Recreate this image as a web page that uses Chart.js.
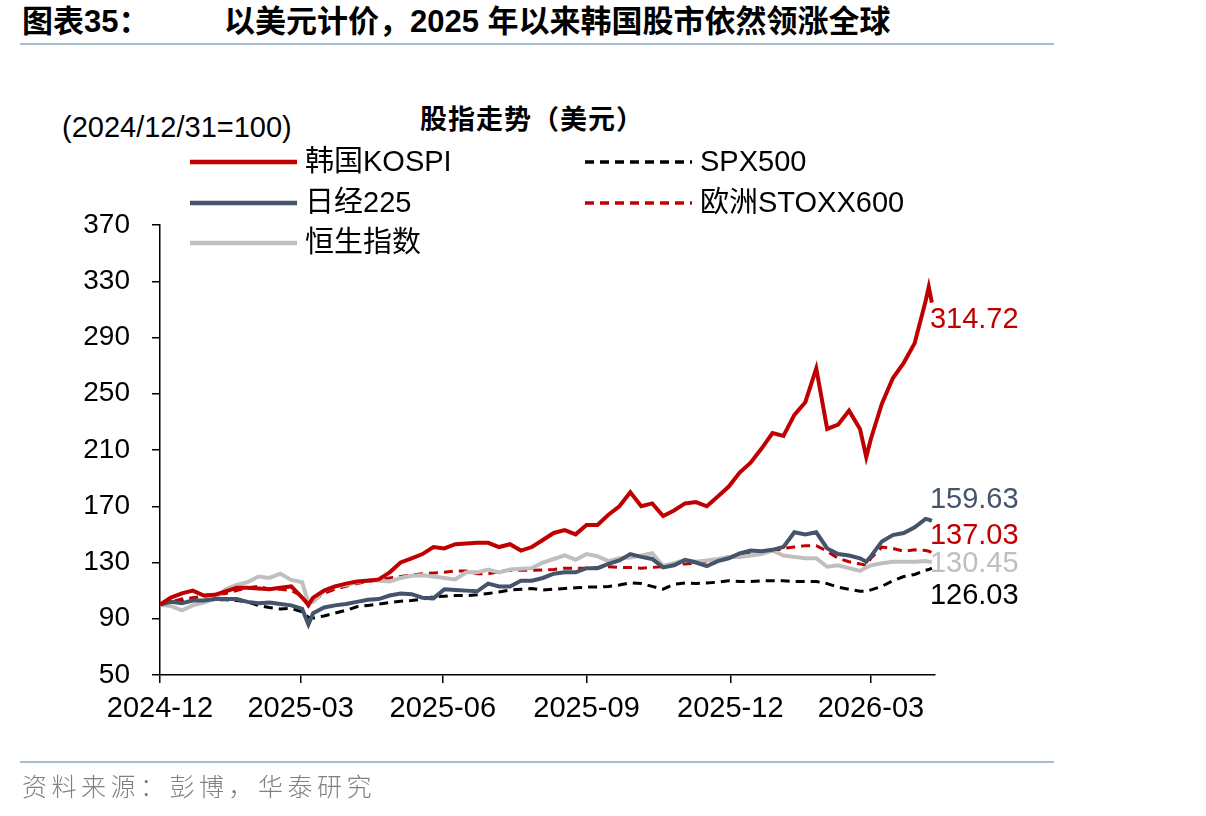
<!DOCTYPE html>
<html>
<head>
<meta charset="utf-8">
<script src="https://cdn.jsdelivr.net/npm/chart.js@4.4.1/dist/chart.umd.min.js"></script>
<style>
  html, body { margin: 0; padding: 0; background: #fff; }
  body { width: 1206px; height: 816px; position: relative; overflow: hidden;
         font-family: "Liberation Sans", "Noto Sans CJK SC", sans-serif; }
  #chartBox { position: absolute; left: 0; top: 0; width: 1206px; height: 816px; }
  .title { position: absolute; top: 2px; font-size: 31px; font-weight: bold; white-space: nowrap; line-height: 40px; }
  .rule { position: absolute; left: 20px; width: 1034px; height: 2px; background: #A7BCD1; }
  .unit { position: absolute; left: 62px; top: 109px; font-size: 29px; line-height: 36px; white-space: nowrap; }
  .sub { position: absolute; left: 420px; top: 100px; font-size: 27px; font-weight: bold; line-height: 36px;
         letter-spacing: 1px; font-family: "Noto Sans CJK SC", sans-serif; white-space: nowrap; }
  .source { position: absolute; left: 22px; top: 768px; font-size: 25px; line-height: 34px; color: #808080;
            letter-spacing: 4.5px; font-family: "Noto Sans CJK SC", sans-serif; font-weight: 300; }
</style>
</head>
<body>
<div class="title" style="left:22px">图表35：</div>
<div class="title" style="left:224px">以美元计价，2025 年以来韩国股市依然领涨全球</div>
<div class="rule" style="top:43px"></div>
<div class="unit">(2024/12/31=100)</div>
<div class="sub">股指走势（美元）</div>
<div id="chartBox"><canvas id="chart" width="1206" height="816"></canvas></div>
<div class="rule" style="top:761px"></div>
<div class="source">资料来源：彭博，华泰研究</div>

<script>
// === Datos (días desde 2024/12/31) ===
const days = [0, 7, 14, 21, 28, 35, 42, 49, 56, 63, 70, 77, 84, 91, 95,
  98, 105, 112, 119, 126, 133, 140, 147, 154, 161, 168, 175, 182, 189, 196,
  203, 210, 217, 224, 231, 238, 245, 252, 259, 266, 273, 280, 287, 294, 301,
  308, 315, 322, 329, 336, 343, 350, 357, 364, 371, 378, 385, 392, 399, 406,
  413, 420, 427, 434, 441, 448, 452, 455, 462, 469, 476, 483, 490, 492, 494];

const kospi = [100, 105, 108, 110, 106.5, 107, 109.5, 112, 112, 111.5, 111, 112, 113, 105, 100,
  105, 110, 113, 115, 116.5, 117, 118, 123, 130, 133, 136, 141, 140, 143, 143.5,
  144, 144, 141, 143, 138.5, 141, 146, 151, 153, 150, 156.7, 156.7, 164, 170, 180,
  170, 172, 163, 167, 172, 173, 170, 177, 184, 194, 201, 211, 222, 220, 235,
  244, 268, 225, 228, 238, 225, 205, 218, 243, 261, 272, 286, 316, 326, 314.72];

const spx = [100, 101, 102.5, 103, 103, 103.5, 103.5, 103, 102, 99.5, 98, 97, 97.5, 95, 91,
  90.5, 92, 94, 96, 98.5, 99.5, 100.5, 101.5, 102.5, 103, 104, 105.5, 106, 106.5, 106.5,
  107, 108, 109, 110.5, 111, 111.5, 110.5, 111, 111.5, 112, 112.5, 112.5, 113, 114, 115.5,
  115, 113, 111, 114.5, 115.5, 115, 115.5, 116, 117, 116.5, 116.5, 117, 117, 117, 116.5,
  116.5, 116.5, 115, 112.5, 111, 109.5, 109.5, 110.5, 113, 117, 120, 121.5, 124.5, 125, 126.03];

const nikkei = [100, 102, 101, 103, 103, 104, 104, 104, 102, 101, 101.5, 100.5, 99.5, 97, 86,
  94, 98, 99.5, 100.5, 102, 103.5, 104, 106.5, 108, 107.5, 105, 104.5, 111, 110.5, 110,
  109.5, 115, 113, 113, 117, 117, 119, 122, 123, 123, 126, 126, 129, 131.5, 136,
  134, 132.5, 126.5, 128, 131.8, 130, 127.5, 131, 133, 136.5, 138.5, 138, 139, 141, 151.5,
  150, 151.5, 140, 136, 135, 133, 130.5, 134.5, 145, 149.5, 151, 155, 161, 160.5, 159.63];

const stoxx = [100, 102, 104, 105, 106, 107, 108, 110, 112, 113, 111, 111, 110, 106, 99,
  103, 108, 111, 113, 115, 116.5, 117.5, 119, 120, 121, 122, 122.5, 123, 124, 124,
  122, 122, 123.5, 124.5, 124.5, 124.5, 124.7, 125, 126, 126, 126, 126.5, 127, 126.5, 126.5,
  126, 126.5, 127, 128.5, 129, 129.5, 131, 132, 134, 135.5, 136.5, 137.5, 138, 140, 141,
  142, 142, 138, 133, 130.5, 129, 128, 133, 141, 140, 138, 139, 138.5, 138, 137.03];

const hsi = [100, 99, 96, 99.5, 101.5, 104, 111, 114, 116, 120, 119, 122, 117.6, 116, 101,
  102, 110, 113, 114, 116, 117.6, 117, 116.5, 119, 120.5, 121, 120, 119, 118, 123,
  123, 125, 123, 125, 125.5, 126, 130, 132.5, 135, 132, 136, 134.5, 131, 133, 133.5,
  135, 136.6, 127.5, 129.5, 131.8, 130.5, 131.5, 132.5, 134, 134, 135, 136, 138.5, 135, 134,
  133, 133, 127, 128, 126, 124, 126.5, 128, 129.5, 130.5, 130.5, 130.5, 131, 130.5, 130.45];

const tickDays = [0, 90, 181, 273, 365, 455];
const tickLabels = ['2024-12', '2025-03', '2025-06', '2025-09', '2025-12', '2026-03'];

// posición vertical (en valores del eje) de las etiquetas finales
const endLabelAt = [302.5, 106, 174.5, 149, 129];

const toPoints = vals => days.map((d, i) => ({ x: d, y: vals[i] }));

const series = [
  { label: '韩国KOSPI', data: kospi, color: '#C00000', dash: [], width: 4, order: 0 },
  { label: 'SPX500', data: spx, color: '#000000', dash: [9, 6], width: 3, order: 4 },
  { label: '日经225', data: nikkei, color: '#44546A', dash: [], width: 4, order: 1 },
  { label: '欧洲STOXX600', data: stoxx, color: '#C00000', dash: [9, 6], width: 3, order: 3 },
  { label: '恒生指数', data: hsi, color: '#BFBFBF', dash: [], width: 4, order: 2 }
];

// === Leyenda manual (2 columnas) ===
const legendPlugin = {
  id: 'manualLegend',
  afterDraw(chart) {
    const ctx = chart.ctx;
    const cols = [190, 585];
    const rows = [162, 203, 243];
    ctx.save();
    chart.data.datasets.forEach((ds, i) => {
      const x = cols[i % 2];
      const y = rows[Math.floor(i / 2)];
      ctx.strokeStyle = ds.borderColor;
      ctx.lineWidth = ds.borderWidth + 0.5;
      ctx.setLineDash(ds.borderDash || []);
      ctx.beginPath();
      ctx.moveTo(x, y);
      ctx.lineTo(x + 107, y);
      ctx.stroke();
      ctx.setLineDash([]);
      ctx.fillStyle = '#000';
      ctx.font = '29px "Liberation Sans", "Noto Sans CJK SC", sans-serif';
      ctx.textBaseline = 'middle';
      ctx.textAlign = 'left';
      ctx.fillText(ds.label, x + 115, y + 1);
    });
    ctx.restore();
  }
};

// === Etiquetas del último valor ===
const endLabelPlugin = {
  id: 'endLabels',
  afterDatasetsDraw(chart) {
    const ctx = chart.ctx;
    const yScale = chart.scales.y;
    ctx.save();
    ctx.font = '29px "Liberation Sans", sans-serif';
    ctx.textBaseline = 'middle';
    ctx.textAlign = 'left';
    chart.data.datasets.forEach((ds, i) => {
      const meta = chart.getDatasetMeta(i);
      const last = meta.data[meta.data.length - 1];
      const val = ds.data[ds.data.length - 1].y;
      ctx.fillStyle = ds.borderColor;
      ctx.fillText(val.toFixed(2), last.x - 2, yScale.getPixelForValue(endLabelAt[i]));
    });
    ctx.restore();
  }
};

const ctx = document.getElementById('chart').getContext('2d');

new Chart(ctx, {
  type: 'line',
  data: {
    datasets: series.map(s => ({
      label: s.label,
      data: toPoints(s.data),
      borderColor: s.color,
      backgroundColor: s.color,
      borderDash: s.dash,
      borderWidth: s.width,
      order: s.order,
      pointRadius: 0,
      tension: 0,
      fill: false
    }))
  },
  options: {
    responsive: false,
    animation: false,
    layout: { padding: { left: 0, top: 225, right: 271, bottom: 81 } },
    plugins: {
      legend: { display: false },
      tooltip: { enabled: false }
    },
    scales: {
      x: {
        type: 'linear',
        min: 0,
        max: 496,
        afterBuildTicks: scale => { scale.ticks = tickDays.map(v => ({ value: v })); },
        afterFit: scale => { scale.height = 60; },
        ticks: {
          autoSkip: false,
          maxRotation: 0,
          padding: 9,
          color: '#000',
          font: { size: 29, family: '"Liberation Sans", sans-serif' },
          callback: v => tickLabels[tickDays.indexOf(v)]
        },
        grid: { drawOnChartArea: false, drawTicks: true, tickLength: 8, color: '#000', lineWidth: 1.5 },
        border: { display: true, color: '#000', width: 1.5 }
      },
      y: {
        min: 50,
        max: 370,
        afterFit: scale => { scale.width = 160; },
        ticks: {
          stepSize: 40,
          padding: 22,
          color: '#000',
          font: { size: 28, family: '"Liberation Sans", sans-serif' }
        },
        grid: { drawOnChartArea: false, drawTicks: true, tickLength: 8, color: '#000', lineWidth: 1.5 },
        border: { display: true, color: '#000', width: 1.5 }
      }
    }
  },
  plugins: [legendPlugin, endLabelPlugin]
});
</script>
</body>
</html>
